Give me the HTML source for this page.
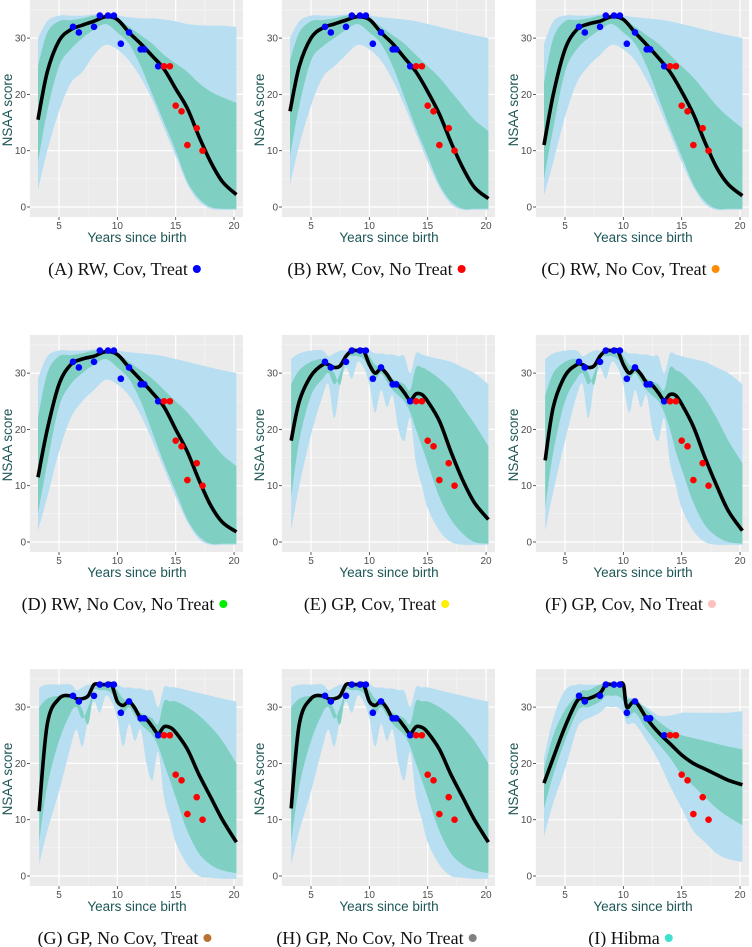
<!DOCTYPE html>
<html><head><meta charset="utf-8">
<style>
html,body{margin:0;padding:0;background:#fff;}
svg{display:block;}
.tick{font-family:"Liberation Sans",sans-serif;font-size:10px;fill:#4d4d4d;}
.axt{font-family:"Liberation Sans",sans-serif;font-size:13.5px;fill:#1d5656;}
.cap{font-family:"Liberation Serif",serif;font-size:18px;fill:#111;}
</style></head>
<body>
<svg id="chart" width="752" height="947" viewBox="0 0 752 947" xmlns="http://www.w3.org/2000/svg"></svg>
<script>
// ---- data ----
const blueX = [6.2,6.7,8,8.5,9.2,9.7,10.3,11,12,12.3,13.5];
const blueY = [32,31,32,34,34,34,29,31,28,28,25];
const redX = [14,14.5,15,15.5,16,16.8,17.3];
const redY = [25,25,18,17,11,14,10];

const rwX = [3.2,4,5,6,7,8,9,10,11,12,13,14,15,16,17,18,19,20.2];
const gpX = [3.3,4,5,6,6.5,7,7.5,8,8.5,9,9.5,10,10.5,11,11.5,12,12.5,13,13.5,14,14.5,15,16,17,18,19,20.2];
const hbX = [3.2,4,5,6,6.5,7,8,8.5,9,9.5,10,10.3,11,12,13,14,15,16,17,18,19,20.2];

const meanA = [15.5,24,29.5,31.5,32.3,33,33.8,33.3,31,29,26.8,24.5,21,17.5,12.5,8,4.5,2.2];
const hiOutA = [30,33,34,34,34,34.2,34,34,33.7,33.5,33.5,33.3,33,32.5,32.3,32.2,32.2,32];
const hiInA = [25,31,33,33.2,33.5,34,34,33.5,32,30.5,29,27,25.5,24,22,20.5,19.5,18.5];
const loInA = [8,17,25,28,30,31.5,32.5,31,29,25,20,15,10,4.5,1.5,0,-0.3,-0.3];
const loOutA = [3,10,17,22,24,27,28.8,28,26,23,19,14,9,4,1,-0.3,-0.5,-0.5];

const meanB = [17,25,30,31.8,32.5,33.2,33.8,33.3,31,29,26.5,24,20.5,16.5,11.5,7,3.5,1.5];
const hiOutB = [30,33,34,34,34,34.2,34,34,33.7,33.5,33.3,33,32.5,32,31.5,31,30.5,30];
const hiInB = [26,31,33,33.2,33.5,34,34,33.5,32,30.5,29,27,25,23,20.5,18,15.5,13.5];
const loInB = [9,18,26,28.5,30,31.5,32.5,31,29,25,19.5,14,9,4,1,-0.3,-0.3,-0.3];
const loOutB = [4,11,18,23,25,27,28.8,28,26,22.5,18,13,8,3.5,0.5,-0.5,-0.5,-0.5];

const meanC = [11,20,28,31.5,32.5,33,33.8,33.3,31,28.8,26.5,24,20.5,16.5,11.5,7,4,2];
const hiOutC = [29,33,34,34,34,34.2,34,34,33.7,33.5,33.3,33,32.5,32,31.5,31,30.5,30];
const hiInC = [22,30,33,33.2,33.5,34,34,33.5,32,30.5,29,27,25,23,20.5,18,16,14];
const loInC = [5,14,24,28,30,31.5,32.5,31,29,25,19.5,14,9,4,1,-0.3,-0.3,-0.3];
const loOutC = [2,8,16,22,25,27,28.8,28,26,22.5,18,13,8,3.5,0.5,-0.5,-0.5,-0.5];

const meanD = [11.5,20,28,31.5,32.5,33,33.8,33.3,31,28.8,26.5,24,20,16,11,6.5,3.5,1.8];
const hiOutD = [29,33,34,34,34,34.2,34,34,33.7,33.5,33.3,33,32.5,32,31.5,31,30.5,30];
const hiInD = [22,30,33,33.2,33.5,34,34,33.5,32,30.5,29,27,25,23,20.5,18,15.5,13.5];
const loInD = [5,14,24,28,30,31.5,32.5,31,29,25,19.5,14,9,4,1,-0.3,-0.3,-0.3];
const loOutD = [2,8,16,22,25,27,28.8,28,26,22.5,18,13,8,3.5,0.5,-0.5,-0.5,-0.5];

const meanE = [18,25,29.5,31.5,31.5,31,31.3,33,34,34,34,31.5,30,30.8,29.8,28.3,27.8,26.5,25.2,26.3,26.2,25,21.5,16,11,7,4];
const hiOutE = [32.5,33.5,34,34,33,33.5,34,34,34,34,34,34,33.5,33.5,33.3,33.3,33,33,30,33.5,33.3,33,32.5,32,31,30,28];
const hiInE = [28,30.5,32,32.5,31.5,30,28,33,34,34,34,33,31.5,31,30,29,28.5,28,27,31,31,30.5,29,27,24,21,17];
const loInE = [8,18,26,29,30,28,30,33,33,33,32.5,31,29,30,28.5,27,26,25,23,20,17,14,8,4,1.5,0,-0.3];
const loOutE = [2,10,19,26,28,22,28,31,29,32,31,28,23,27,24,26,20,18,22,14,10,6,2,0,-0.5,-0.5,-0.5];

const meanF = [14.5,24,29.5,31.5,31.5,31,31.3,33,34,34,34,31.5,30,30.8,29.8,28.3,27.8,26.5,25.2,26.2,26,24.5,20.5,15,10,5.5,2];
const hiOutF = [32.5,33.5,34,34,33,33.5,34,34,34,34,34,34,33.5,33.5,33.3,33.3,33,33,30,33.5,33.3,33,32.5,32,31,30,28];
const hiInF = [26,30,32,32.5,31.5,30,28,33,34,34,34,33,31.5,31,30,29,28.5,28,27,31,30.5,30,28,25.5,22,18,14];
const loInF = [6,16,25,29,30,28,30,33,33,33,32.5,31,29,30,28.5,27,26,25,23,20,16,13,7,3,1,0,-0.3];
const loOutF = [2,9,18,26,28,22,28,31,29,32,31,28,23,27,24,26,20,18,22,14,10,6,2,0,-0.5,-0.5,-0.5];

const meanG = [11.5,27,31.5,32,31.5,31.5,32,34,34,34,34,31,30.3,31,29.8,28,27.8,26.5,25.3,26.5,26.4,25.5,22.5,18,14,10,6];
const hiOutG = [33.5,34,34,34,33,33.5,34,34,34,34,34,34,33.5,33.5,33.3,33.3,33,32.8,30,33.5,33.5,33.5,33,32.5,32,31.5,31];
const hiInG = [30,31.5,32,32,31.5,29.5,27,33,34,34,34,33,31.5,31,30,29,28.5,28,27,31,31,31,30,28.5,26.5,24,20];
const loInG = [6,16,24,29,30,28,30,33,33,33,32.5,31,29,30,28.5,27,26,25,23,20,17,14,8,4,2,1,0.5];
const loOutG = [2,8,15,23,26,23,28,31,29,32,31,28,23,27,24,26,20,17,22,14,10,6,2,0,-0.3,-0.5,-0.5];

const meanH = [12,27,31.5,32,31.5,31.5,32,34,34,34,34,31,30.3,31,29.8,28,27.8,26.5,25.3,26.5,26.4,25.5,22.5,18,14,10,6];
const hiOutH = [33.5,34,34,34,33,33.5,34,34,34,34,34,34,33.5,33.5,33.3,33.3,33,32.8,30,33.5,33.5,33.5,33,32.5,32,31.5,31];
const hiInH = [30,31.5,32,32,31.5,29.5,27,33,34,34,34,33,31.5,31,30,29,28.5,28,27,31,31,31,30,28.5,26.5,24,20];
const loInH = [6,16,24,29,30,28,30,33,33,33,32.5,31,29,30,28.5,27,26,25,23,20,17,14,8,4,2,1,0.5];
const loOutH = [2,8,15,23,26,23,28,31,29,32,31,28,23,27,24,26,20,17,22,14,10,6,2,0,-0.3,-0.5,-0.5];

const meanI = [16.5,21,26.5,31,31.5,31.5,32.5,34,34,34,34,30,31,28,25.5,23.5,21.5,20,19,18,17,16.2];
const hiOutI = [21,28,33,34,34,34,34,34,34,34,33,32,31,30,28.5,28.5,29,29,29,29,29,29.3];
const hiInI = [19,25,29.5,32,33,33,34,34,34,34,33.5,31.5,31.5,29.5,27.5,26,25,24.5,24,23.5,23,22.5];
const loInI = [12,18,24,29,30,30,31,32,32,32,31,28,29,26,23.5,21,18,16,14,12,10.5,9];
const loOutI = [7,13,19,26,27.5,28,29,30,30,30,29,27,27,24,20.5,16,12,8,6,4,3,2.5];

const captions = ["(A) RW, Cov, Treat","(B) RW, Cov, No Treat","(C) RW, No Cov, Treat","(D) RW, No Cov, No Treat","(E) GP, Cov, Treat","(F) GP, Cov, No Treat","(G) GP, No Cov, Treat","(H) GP, No Cov, No Treat","(I) Hibma"];
const capColors = ["#0000ff","#ff0000","#ff8c00","#00ee00","#ffee00","#ffc0c0","#b87333","#808080","#40e0d0"];
const yTicks = [0,10,20,30];
const xTicks = [5,10,15,20];

const panels = [
 [rwX,meanA,hiOutA,hiInA,loInA,loOutA],
 [rwX,meanB,hiOutB,hiInB,loInB,loOutB],
 [rwX,meanC,hiOutC,hiInC,loInC,loOutC],
 [rwX,meanD,hiOutD,hiInD,loInD,loOutD],
 [gpX,meanE,hiOutE,hiInE,loInE,loOutE],
 [gpX,meanF,hiOutF,hiInF,loInF,loOutF],
 [gpX,meanG,hiOutG,hiInG,loInG,loOutG],
 [gpX,meanH,hiOutH,hiInH,loInH,loOutH],
 [hbX,meanI,hiOutI,hiInI,loInI,loOutI]
];
const panelNames = ["panel-a","panel-b","panel-c","panel-d","panel-e","panel-f","panel-g","panel-h","panel-i"];

// ---- drawing ----
const NS = "http://www.w3.org/2000/svg";
const svg = document.getElementById("chart");
function mk(tag, attrs, parent){
  const e = document.createElementNS(NS, tag);
  for (const k in attrs) e.setAttribute(k, attrs[k]);
  parent.appendChild(e);
  return e;
}
function smooth(pts, move){
  let d = move ? `M${pts[0][0]},${pts[0][1]}` : `L${pts[0][0]},${pts[0][1]}`;
  for (let i=0;i<pts.length-1;i++){
    const p0=pts[Math.max(i-1,0)], p1=pts[i], p2=pts[i+1], p3=pts[Math.min(i+2,pts.length-1)];
    const c1=[p1[0]+(p2[0]-p0[0])/6, p1[1]+(p2[1]-p0[1])/6];
    const c2=[p2[0]-(p3[0]-p1[0])/6, p2[1]-(p3[1]-p1[1])/6];
    d += `C${c1[0].toFixed(1)},${c1[1].toFixed(1)} ${c2[0].toFixed(1)},${c2[1].toFixed(1)} ${p2[0].toFixed(1)},${p2[1].toFixed(1)}`;
  }
  return d;
}

panels.forEach((p, idx) => {
  const col = idx % 3, row = Math.floor(idx/3);
  const ox = [0,252,506][col], oy = [0,335,669][row];
  const X = v => ox + 59 + (v-5)*11.67;
  const Y = v => oy + 207 - v*5.63;
  const g = mk("g", {}, svg);
  
  
  const bg = mk("rect", {x:ox+30, y:oy, width:213, height:217, fill:"#ebebeb"}, g);
  
  
  [5,15,25,35].forEach(v => { if (Y(v) > oy) mk("line",{x1:ox+30,x2:ox+243,y1:Y(v),y2:Y(v),stroke:"#f7f7f7","stroke-width":0.6},g); });
  [2.5,7.5,12.5,17.5].forEach(v => mk("line",{x1:X(v),x2:X(v),y1:oy,y2:oy+217,stroke:"#f7f7f7","stroke-width":0.6},g));
  yTicks.forEach(v => mk("line",{x1:ox+30,x2:ox+243,y1:Y(v),y2:Y(v),stroke:"#fff","stroke-width":1.2},g));
  xTicks.forEach(v => mk("line",{x1:X(v),x2:X(v),y1:oy,y2:oy+217,stroke:"#fff","stroke-width":1.2},g));
  const [xs, mean, hiO, hiI, loI, loO] = p;
  const band = (hi, lo, color, name) => {
    const top = xs.map((x,i)=>[X(x),Y(hi[i])]);
    const bot = xs.map((x,i)=>[X(x),Y(lo[i])]).reverse();
    const path = mk("path",{d: smooth(top,true)+smooth(bot,false)+"Z", fill:color},g);
    
    
  };
  band(hiO, loO, "#b8def2", "outer-credible-band");
  band(hiI, loI, "#7fd0c2", "inner-credible-band");
  const ln = mk("path",{d: smooth(xs.map((x,i)=>[X(x),Y(mean[i])]),true), fill:"none", stroke:"#000","stroke-width":3.6,"stroke-linejoin":"round"},g);
  
  
  blueX.forEach((x,i) => {
    const c = mk("circle",{cx:X(x),cy:Y(blueY[i]),r:3.3,fill:"#0000ff"},g);
    
    
  });
  redX.forEach((x,i) => {
    const c = mk("circle",{cx:X(x),cy:Y(redY[i]),r:3.3,fill:"#ff0000"},g);
    
    
  });
  yTicks.forEach(v => {
    mk("line",{x1:ox+27,x2:ox+30,y1:Y(v),y2:Y(v),stroke:"#333","stroke-width":0.8},g);
    const t = mk("text",{x:ox+26,y:Y(v)+3.5,"text-anchor":"end",class:"tick"},g);
    t.textContent = v;
    
    
  });
  xTicks.forEach(v => {
    mk("line",{x1:X(v),x2:X(v),y1:oy+217,y2:oy+220,stroke:"#333","stroke-width":0.8},g);
    const t = mk("text",{x:X(v),y:oy+229,"text-anchor":"middle",class:"tick"},g);
    t.textContent = v;
    
    
  });
  const yt = mk("text",{x:0,y:0,"text-anchor":"middle",class:"axt",transform:`translate(${ox+12},${oy+110}) rotate(-90)`},g);
  yt.textContent = "NSAA score";
  
  
  const xt = mk("text",{x:ox+137,y:oy+242,"text-anchor":"middle",class:"axt"},g);
  xt.textContent = "Years since birth";
  
  
  const cap = mk("text",{x:ox+118,y:oy+275,"text-anchor":"middle",class:"cap"},g);
  cap.textContent = captions[idx];
  
  
  const bb = cap.getBBox();
  const dot = mk("circle",{cx:bb.x+bb.width+9,cy:oy+269,r:4,fill:capColors[idx]},g);
  
  
});
</script>
</body></html>
